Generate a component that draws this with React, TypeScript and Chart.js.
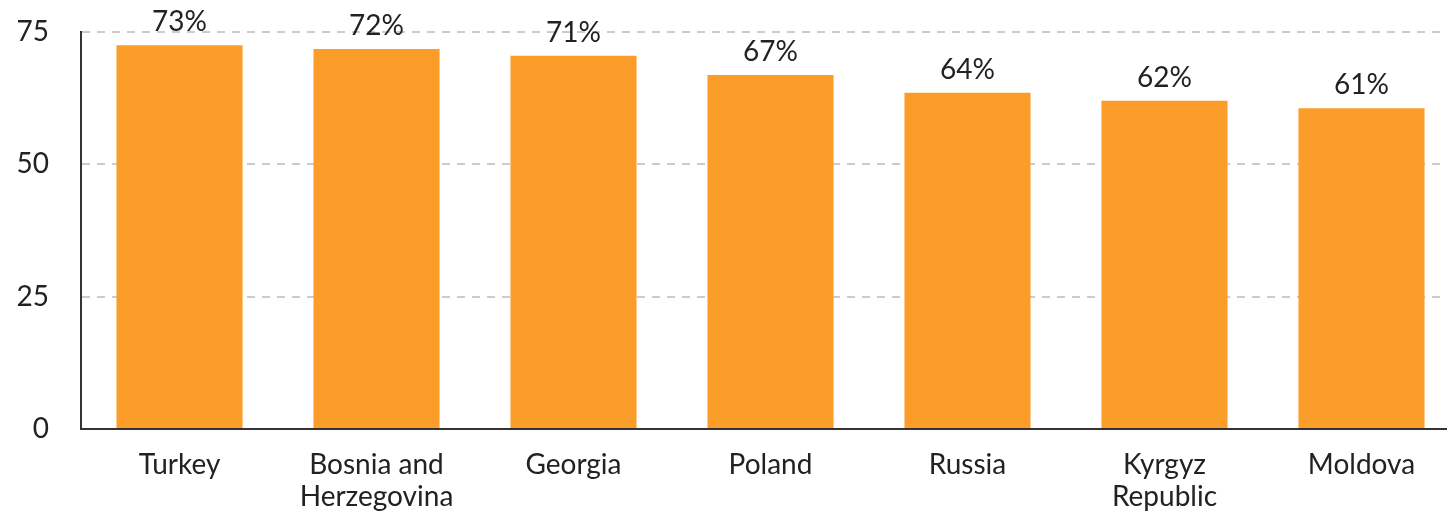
import React, { useEffect, useRef } from "react";
import { Chart, registerables } from "chart.js";

Chart.register(...registerables);

const categories: (string | string[])[] = [
  "Turkey",
  ["Bosnia and", "Herzegovina"],
  "Georgia",
  "Poland",
  "Russia",
  ["Kyrgyz", "Republic"],
  "Moldova",
];
const values = [72.5, 71.8, 70.5, 66.9, 63.5, 62.0, 60.6];
const valueLabels = ["73%", "72%", "71%", "67%", "64%", "62%", "61%"];
const yTicks = [0, 25, 50, 75];

const FONT = "Lato, 'Open Sans', sans-serif";

const barLabels = {
  id: "barLabels",
  afterDatasetsDraw(chart: any) {
    const ctx = chart.ctx;
    const meta = chart.getDatasetMeta(0);
    ctx.save();
    ctx.font = `28px ${FONT}`;
    ctx.fillStyle = "#222222";
    ctx.textAlign = "center";
    ctx.textBaseline = "alphabetic";
    meta.data.forEach((bar: any, i: number) => {
      ctx.fillText(valueLabels[i], bar.x, bar.y - 14);
    });
    ctx.restore();
  },
};

export default function App() {
  const ref = useRef<HTMLCanvasElement>(null);
  useEffect(() => {
    document.body.style.margin = "0";
    document.body.style.overflow = "hidden";
    const chart = new Chart(ref.current!, {
      type: "bar",
      data: {
        labels: categories as any,
        datasets: [
          {
            data: values,
            backgroundColor: "#FD9D29",
            barPercentage: 0.64,
            categoryPercentage: 1,
          },
        ],
      },
      options: {
        animation: false,
        responsive: false,
        maintainAspectRatio: false,
        layout: { padding: { top: 32, right: 10, left: 0, bottom: 0 } },
        plugins: { legend: { display: false }, tooltip: { enabled: false } },
        scales: {
          x: {
            grid: { display: false, drawTicks: false },
            border: { display: true, color: "#333333", width: 2 },
            ticks: {
              color: "#222222",
              font: { family: FONT, size: 28, lineHeight: 1.15 },
              padding: 20,
              maxRotation: 0,
              autoSkip: false,
            },
            afterFit(scale: any) {
              scale.height = 85;
              scale.paddingLeft = 0;
              scale.paddingRight = 0;
            },
          },
          y: {
            min: 0,
            max: 75,
            afterBuildTicks(scale: any) {
              scale.ticks = yTicks.map((v) => ({ value: v }));
            },
            grid: {
              color: "#CCCCCC",
              lineWidth: 2,
              drawTicks: false,
            },
            border: { display: true, color: "#333333", width: 2, dash: [8, 7] } as any,
            ticks: {
              color: "#222222",
              font: { family: FONT, size: 28 },
              padding: 32,
            },
            afterFit(scale: any) {
              scale.width = 81;
              scale.paddingTop = 0;
              scale.paddingBottom = 0;
            },
          },
        },
      },
      plugins: [barLabels],
    });
    return () => chart.destroy();
  }, []);
  return (
    <div style={{ position: "absolute", left: 0, top: 0, width: 1470, height: 514 }}>
      <canvas ref={ref} width={1470} height={514} style={{ width: 1470, height: 514 }} />
    </div>
  );
}
